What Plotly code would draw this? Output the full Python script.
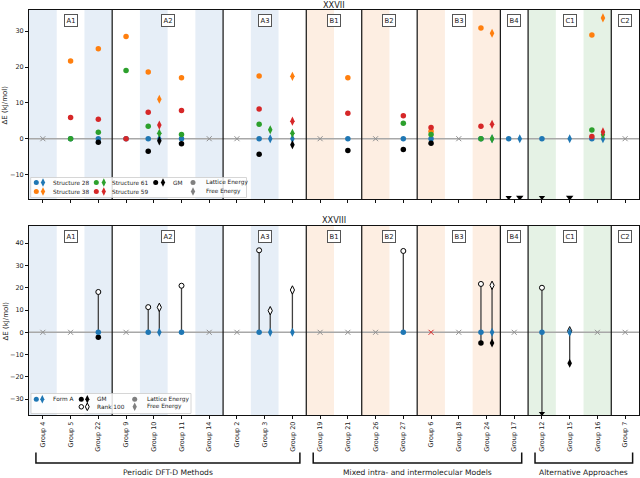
import plotly.graph_objects as go

N = None
groups = ["Group 4", "Group 5", "Group 22", "Group 9", "Group 10", "Group 11", "Group 14",
          "Group 2", "Group 3", "Group 20", "Group 19", "Group 21", "Group 26", "Group 27",
          "Group 6", "Group 18", "Group 24", "Group 17", "Group 12", "Group 15", "Group 16", "Group 7"]
method_labels = ["A1", "A2", "A3", "B1", "B2", "B3", "B4", "C1", "C2"]
method_sizes = [3, 4, 3, 2, 2, 3, 1, 3, 1]
family_labels = ["Periodic DFT-D Methods", "Mixed intra- and intermolecular Models", "Alternative Approaches"]
family_sizes = [10, 8, 4]
family_shades = ["#e6eef7", "#fdeee2", "#e5f2e5"]

# ---- XXVII (top) ----
top_title = "XXVII"
top_names = ["Structure 28", "Structure 38", "Structure 61", "Structure 59", "GM"]
top_colors = ["#1f77b4", "#ff7f0e", "#2ca02c", "#d62728", "#000000"]
s28_lattice = [N, 0, 0, 0, 0, 0, N, N, 0, N, N, 0, N, 0, 0, N, 0, 0, 0, N, 0, N]
s38_lattice = [N, 21.7, 25.1, 28.5, 18.6, 17.0, N, N, 17.5, N, N, 17.0, N, N, 2.1, N, 30.9, N, N, N, 28.9, N]
s61_lattice = [N, 0, 1.8, 19.0, 3.5, 1.2, N, N, 4.0, N, N, N, N, 4.3, 1.2, N, 0, N, N, N, 2.4, N]
s59_lattice = [N, 5.9, 5.4, 0, 7.4, 7.9, N, N, 8.3, N, N, 7.1, N, 6.4, 3.1, N, 3.5, N, N, N, 0.6, N]
gm27_lattice = [N, N, -1.0, N, -3.5, -1.4, N, N, -4.3, N, N, -3.3, N, -3.0, -1.3, N, N, -25, -25, N, N, N]
s28_free = [N, N, N, N, 0, N, N, N, 0, 0, N, N, N, N, N, N, 0, 0, N, 0, 0, N]
s38_free = [N, N, N, N, 11.0, N, N, N, N, 17.4, N, N, N, N, N, N, 29.4, N, N, N, 33.7, N]
s61_free = [N, N, N, N, 1.5, N, N, N, 2.5, 1.5, N, N, N, N, N, N, 0, N, N, N, 1.1, N]
s59_free = [N, N, N, N, 3.8, N, N, N, N, 4.9, N, N, N, N, N, N, 4.0, N, N, N, 1.9, N]
gm27_free = [N, N, N, N, -0.6, N, N, N, N, -1.7, N, N, N, N, N, N, N, -25, N, -25, N, N]
top_range = [-16.9, 35.9]
top_ticks = [-10, 0, 10, 20, 30]

# ---- XXVIII (bottom) ----
bot_title = "XXVIII"
bot_names = ["Form A", "GM", "Rank 100"]
formA_lattice = [N, N, 0, N, 0, 0, N, N, 0, N, N, N, N, 0, N, N, 0, N, 0, N, N, N]
formA_free = [N, N, N, N, 0, N, N, N, 0, 0, N, N, N, N, N, N, 0, N, N, 0, N, N]
gm28_lattice = [N, N, -2.2, N, N, N, N, N, N, N, N, N, N, N, N, N, -4.8, N, -45, N, N, N]
gm28_free = [N, N, N, N, N, N, N, N, N, N, N, N, N, N, N, N, -4.8, N, N, -13.9, N, N]
rank100_lattice = [N, N, 18.1, N, 11.3, 20.9, N, N, 36.8, N, N, N, N, 36.5, N, N, 21.7, N, 20.0, N, N, N]
rank100_free = [N, N, N, N, 11.2, N, N, N, 9.7, 19.0, N, N, N, N, N, N, 21.1, N, N, 0.7, N, N]
not_found_xxviii = ["Group 6"]
bot_range = [-37.1, 47.7]
bot_ticks = [-30, -20, -10, 0, 10, 20, 30, 40]

energy_labels = ["Lattice Energy", "Free Energy"]
ylabel = "ΔE (kJ/mol)"

FONT = "DejaVu Sans"
OFF = 0.2
GRAY_X = "#909090"
n = len(groups)
fig = go.Figure()


def has_any(arrs, i):
    return any(a[i] is not None for a in arrs)


def clip(v, rng, pad):
    if v is None:
        return None, False
    if v < rng[0]:
        return rng[0] + pad, True
    return v, False


def positions(arrs_self, arrs_other, sign):
    return [i + (sign * OFF if has_any(arrs_other, i) else 0) for i in range(n)]


def add_points(vals, xs, rng, pad, color, symbol, size, xa, ya, open_=False, lw=0):
    px, py_, sy = [], [], []
    for i, v in enumerate(vals):
        y, c = clip(v, rng, pad)
        if y is None:
            continue
        px.append(xs[i]); py_.append(y)
        sy.append("triangle-down" if c else symbol)
    if not px:
        return
    fig.add_trace(go.Scatter(
        x=px, y=py_, mode="markers", xaxis=xa, yaxis=ya, showlegend=False, hoverinfo="skip",
        marker=dict(symbol=sy, size=size, color="white" if open_ else color,
                    line=dict(color=color, width=lw))))


def add_missing(idx, colors, xa, ya):
    fig.add_trace(go.Scatter(x=idx, y=[0] * len(idx), mode="markers", xaxis=xa, yaxis=ya,
                             showlegend=False, hoverinfo="skip",
                             marker=dict(symbol="x-thin-open", size=5, color=colors,
                                         line=dict(color=colors, width=1))))


# ---------------- top panel ----------------
top_lat = [s28_lattice, s38_lattice, s61_lattice, s59_lattice, gm27_lattice]
top_free = [s28_free, s38_free, s61_free, s59_free, gm27_free]
xl_top = positions(top_lat, top_free, -1)
xf_top = positions(top_free, top_lat, +1)
missing_top = [i for i in range(n) if not has_any(top_lat + top_free, i)]
add_missing(missing_top, [GRAY_X] * len(missing_top), "x", "y")
for k in range(5):
    add_points(top_lat[k], xl_top, top_range, 0.55, top_colors[k], "circle", 5.5, "x", "y")
    add_points(top_free[k], xf_top, top_range, 0.55, top_colors[k], "diamond-tall", 6.5, "x", "y")

# ---------------- bottom panel ----------------
bot_lat = [formA_lattice, gm28_lattice, rank100_lattice]
bot_free = [formA_free, gm28_free, rank100_free]
xl_bot = positions(bot_lat, bot_free, -1)
xf_bot = positions(bot_free, bot_lat, +1)
missing_bot = [i for i in range(n) if not has_any(bot_lat + bot_free, i)]
add_missing(missing_bot, ["#d62728" if groups[i] in not_found_xxviii else GRAY_X for i in missing_bot],
            "x2", "y2")
# stems
sx, sy = [], []
for fa, gm, rk, xs in [(formA_lattice, gm28_lattice, rank100_lattice, xl_bot),
                       (formA_free, gm28_free, rank100_free, xf_bot)]:
    for i in range(n):
        if rk[i] is None:
            continue
        lows = [v for v in (fa[i], clip(gm[i], bot_range, 0.75)[0]) if v is not None]
        lo = min(lows + [rk[i]])
        sx += [xs[i], xs[i], None]
        sy += [lo, rk[i], None]
fig.add_trace(go.Scatter(x=sx, y=sy, mode="lines", xaxis="x2", yaxis="y2", showlegend=False,
                         hoverinfo="skip", line=dict(color="#404040", width=1.3)))
add_points(rank100_lattice, xl_bot, bot_range, 0.75, "#000000", "circle", 5, "x2", "y2", open_=True, lw=1)
add_points(rank100_free, xf_bot, bot_range, 0.75, "#000000", "diamond-tall", 6, "x2", "y2", open_=True, lw=1)
add_points(gm28_lattice, xl_bot, bot_range, 0.75, "#000000", "circle", 5.5, "x2", "y2")
add_points(gm28_free, xf_bot, bot_range, 0.75, "#000000", "diamond-tall", 6.5, "x2", "y2")
add_points(formA_lattice, xl_bot, bot_range, 0.75, "#1f77b4", "circle", 5.5, "x2", "y2")
add_points(formA_free, xf_bot, bot_range, 0.75, "#1f77b4", "diamond-tall", 6.5, "x2", "y2")

# ---------------- shapes: shading, zero line, separators ----------------
shapes = []
fam_of = []
for f, s in enumerate(family_sizes):
    fam_of += [f] * s
bounds = []
acc = 0
for s in method_sizes[:-1]:
    acc += s
    bounds.append(acc - 0.5)
for xa, ya in [("x", "y"), ("x2", "y2")]:
    for i in range(n):
        if i % 2 == 0:
            shapes.append(dict(type="rect", xref=xa, yref=ya + " domain", x0=i - 0.5, x1=i + 0.5, y0=0, y1=1,
                               fillcolor=family_shades[fam_of[i]], line=dict(width=0), layer="below"))
    shapes.append(dict(type="line", xref=xa + " domain", yref=ya, x0=0, x1=1, y0=0, y1=0,
                       line=dict(color="#a8a8a8", width=1.5), layer="below"))
    for b in bounds:
        shapes.append(dict(type="line", xref=xa, yref=ya + " domain", x0=b, x1=b, y0=0, y1=1,
                           line=dict(color="#111111", width=1.2), layer="below"))

annotations = []
# method boxes
acc = 0
for lab, s in zip(method_labels, method_sizes):
    c = acc + (s - 1) / 2
    acc += s
    for xa, ya in [("x", "y"), ("x2", "y2")]:
        annotations.append(dict(x=c, y=1, xref=xa, yref=ya + " domain", yanchor="top", yshift=-4,
                                text=lab, showarrow=False, font=dict(family=FONT, size=6.8, color="#222"),
                                bgcolor="white", bordercolor="#555", borderwidth=1, borderpad=1.5))

# brackets
PX_TOP, PX_BOT = 10, 415
H = PX_BOT - PX_TOP


def py(p):
    return (PX_BOT - p) / H


acc = 0
for lab, s in zip(family_labels, family_sizes):
    x0 = acc - 0.25
    x1 = acc + s - 1 + 0.27
    acc += s
    shapes.append(dict(type="path", xref="x2", yref="paper",
                       path=f"M {x0},{py(452.5)} L {x0},{py(463)} L {x1},{py(463)} L {x1},{py(452.5)}",
                       line=dict(color="#111", width=1.5)))
    annotations.append(dict(x=(x0 + x1) / 2, y=py(472), xref="x2", yref="paper", text=lab,
                            showarrow=False, xanchor="center", yanchor="middle",
                            font=dict(family=FONT, size=7.6, color="#222")))

# titles
annotations.append(dict(x=0.5, y=py(5), xref="paper", yref="paper", text=top_title, showarrow=False,
                        yanchor="middle", font=dict(family=FONT, size=8.2, color="#222")))
annotations.append(dict(x=0.5, y=py(219.5), xref="paper", yref="paper", text=bot_title, showarrow=False,
                        yanchor="middle", font=dict(family=FONT, size=8.2, color="#222")))
for yc in (104.5, 320.5):
    annotations.append(dict(x=(5 - 29) / 610, y=py(yc), xref="paper", yref="paper", text=ylabel,
                            textangle=-90, showarrow=False, xanchor="center", yanchor="middle",
                            font=dict(family=FONT, size=7, color="#222")))

# ---------------- legends (drawn in pixel-like overlay axes) ----------------
def legend_box(x0, x1, y0, y1):
    fig.add_trace(go.Scatter(x=[x0, x1, x1, x0, x0], y=[y0, y0, y1, y1, y0], mode="lines", fill="toself",
                             fillcolor="rgba(255,255,255,0.85)", line=dict(color="#cccccc", width=0.8),
                             xaxis="x3", yaxis="y3", showlegend=False, hoverinfo="skip"))


def glyph(x, y, color, symbol, size, open_=False):
    fig.add_trace(go.Scatter(x=[x], y=[y], mode="markers", xaxis="x3", yaxis="y3", showlegend=False,
                             hoverinfo="skip",
                             marker=dict(symbol=symbol, size=size, color="white" if open_ else color,
                                         line=dict(color=color, width=1 if open_ else 0))))


def ltext(x, y, t):
    annotations.append(dict(x=x, y=y, xref="x3", yref="y3", text=t, showarrow=False, xanchor="left",
                            yanchor="middle", font=dict(family=FONT, size=5.8, color="#222")))


legend_box(30.7, 246.5, 177.5, 197.5)
r1, r2 = 182.5, 191.5
cols = [(36.3, 43.0, 50.5), (96.3, 103.8, 110.3), (155.7, 163.0, 170.5)]
slots = [(0, r1), (0, r2), (1, r1), (1, r2), (2, r1)]
for k, (c, r) in enumerate(slots):
    cx, dx, tx = cols[c]
    glyph(cx, r, top_colors[k], "circle", 5)
    glyph(dx, r, top_colors[k], "diamond-tall", 6)
    ltext(tx, r, top_names[k])
glyph(193, r1, "#808080", "circle", 5)
glyph(193, r2, "#808080", "diamond-tall", 6)
ltext(203.5, r1, energy_labels[0])
ltext(203.5, r2, energy_labels[1])

legend_box(31, 191, 393.5, 413.5)
b1, b2 = 399.3, 406.8
glyph(36.3, b1, "#1f77b4", "circle", 5)
glyph(42.3, b1, "#1f77b4", "diamond-tall", 6)
ltext(50.5, b1, bot_names[0])
glyph(81.3, b1, "#000000", "circle", 5)
glyph(87.3, b1, "#000000", "diamond-tall", 6)
ltext(94.7, b1, bot_names[1])
glyph(81.3, b2, "#000000", "circle", 4.5, open_=True)
glyph(87.3, b2, "#000000", "diamond-tall", 5.5, open_=True)
ltext(94.7, b2, bot_names[2])
glyph(134.7, b1, "#808080", "circle", 5)
glyph(134.7, b2, "#808080", "diamond-tall", 6)
ltext(145.3, b1, energy_labels[0])
ltext(145.3, b2, energy_labels[1])

# ---------------- axes ----------------
axis_common = dict(showgrid=False, zeroline=False, showline=True, linecolor="#111", linewidth=1,
                   mirror=True, ticks="outside", ticklen=3, tickwidth=0.8, tickcolor="#111",
                   automargin=False, tickfont=dict(family=FONT, size=6.5, color="#222"))
fig.update_layout(
    width=640, height=478,
    margin=dict(l=29, r=1, t=PX_TOP, b=478 - PX_BOT, autoexpand=False),
    paper_bgcolor="white", plot_bgcolor="rgba(0,0,0,0)",
    showlegend=False,
    shapes=shapes, annotations=annotations,
    xaxis=dict(domain=[0, 1], anchor="y", range=[-0.5, n - 0.5], tickmode="array",
               tickvals=list(range(n)), ticktext=groups, showticklabels=False, **axis_common),
    yaxis=dict(domain=[py(199.3), 1], anchor="x", range=top_range, tickmode="array", tickvals=top_ticks,
               **axis_common),
    xaxis2=dict(domain=[0, 1], anchor="y2", range=[-0.5, n - 0.5], tickmode="array",
                tickvals=list(range(n)), ticktext=groups, tickangle=-90, **axis_common),
    yaxis2=dict(domain=[0, py(226)], anchor="x2", range=bot_range, tickmode="array", tickvals=bot_ticks,
                **axis_common),
    xaxis3=dict(domain=[0, 1], anchor="y3", range=[29, 639], visible=False, fixedrange=True,
                automargin=False),
    yaxis3=dict(domain=[0, 1], anchor="x3", range=[PX_BOT, PX_TOP], visible=False, fixedrange=True,
                automargin=False),
)
fig.write_html("out.html", config={"displayModeBar": False},
               post_script="document.body.style.margin='0';document.body.style.padding='0';")
